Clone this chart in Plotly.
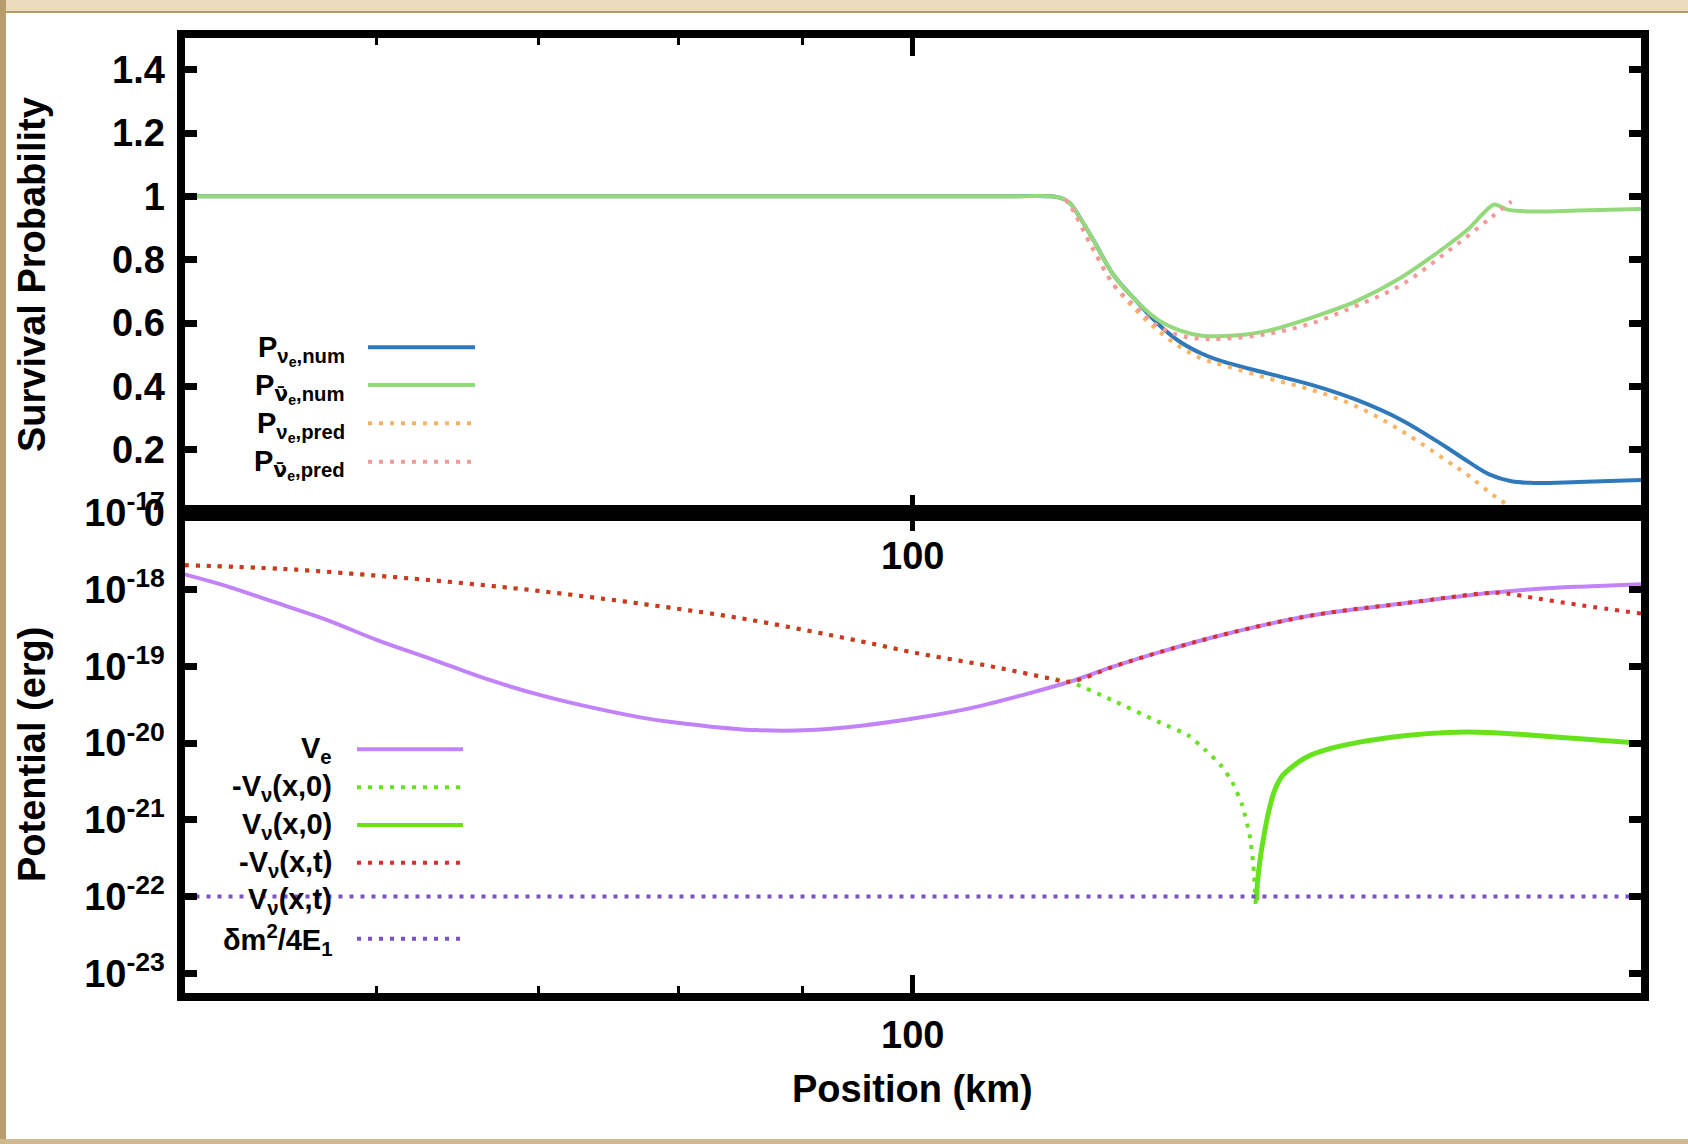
import plotly.graph_objects as go

W, H = 1688, 1144


def fx(p):
    return p / W


def fy(p):
    return 1 - p / H


# ---------------- top panel: survival probabilities ----------------
x_nu_num = [50, 80, 109, 114, 115.1, 116.1, 117.3, 118.6, 121.1, 123.7, 126.3, 129.0, 131.7,
            134.5, 140.3, 146.3, 152.6, 159.2, 166.0, 169.6, 173.2, 176.8, 180.6, 188.4, 200]
p_nu_num = [1, 1, 1, 1.0, 0.995, 0.98, 0.93, 0.87, 0.75, 0.67, 0.597, 0.54, 0.503,
            0.477, 0.44, 0.404, 0.357, 0.294, 0.21, 0.163, 0.121, 0.10, 0.095, 0.098, 0.104]

x_nubar_num = [50, 80, 109, 114, 115.1, 116.1, 117.3, 118.6, 121.1, 123.7, 126.3, 129.0, 131.7,
               134.5, 137.3, 140.3, 146.3, 152.6, 159.2, 166.0, 169.6, 173.9, 176.1, 180.6,
               188.4, 200]
p_nubar_num = [1, 1, 1, 1, 0.995, 0.98, 0.93, 0.87, 0.75, 0.67, 0.61, 0.576, 0.56,
               0.559, 0.564, 0.576, 0.618, 0.67, 0.744, 0.84, 0.895, 0.974, 0.958, 0.952,
               0.955, 0.96]

x_nu_pred = [115.6, 116.3, 118.6, 121.1, 123.7, 126.3, 129.0, 131.7, 134.5, 140.3,
             146.3, 152.6, 159.2, 166.0, 169.6, 173.2, 175.7, 177.5]
p_nu_pred = [0.99, 0.965, 0.84, 0.72, 0.64, 0.576, 0.524, 0.487, 0.466, 0.425,
             0.388, 0.336, 0.26, 0.168, 0.12, 0.064, 0.03, -0.01]

x_nubar_pred = [115.6, 116.3, 118.6, 121.1, 123.7, 126.3, 129.0, 131.7, 134.5, 140.3,
                146.3, 152.6, 159.2, 166.0, 173.2, 176.8]
p_nubar_pred = [0.99, 0.965, 0.84, 0.72, 0.65, 0.59, 0.56, 0.55, 0.55, 0.566,
                0.60, 0.655, 0.72, 0.82, 0.93, 0.984]

# ---------------- bottom panel: potentials (log10 of erg) ----------------
x_ve = [50, 52, 54.2, 57.1, 60.1, 63.2, 66.6, 70.1, 73.8, 77.7, 81.8, 86.1, 90.7, 95.4, 100.5,
        105.8, 111.4, 116.1, 121.1, 126.3, 134.6, 146.5, 159.4, 173.4, 180.9, 188.7, 200]
log_ve = [-17.8, -17.95, -18.14, -18.38, -18.66, -18.9, -19.16, -19.37, -19.54, -19.68, -19.77,
          -19.83, -19.83, -19.77, -19.67, -19.54, -19.36, -19.2, -19.0, -18.82, -18.58, -18.33,
          -18.18, -18.04, -17.99, -17.96, -17.93]

x_mvnu_t = [50, 55, 61.3, 68.4, 76.3, 85.2, 95.1, 100.5, 106.1, 109, 113.7, 116.1, 121.1,
            126.3, 134.6, 146.5, 159.4, 173.4, 176, 180.9, 188.7, 200]
log_mvnu_t = [-17.68, -17.73, -17.84, -17.98, -18.16, -18.38, -18.67, -18.83, -18.96, -19.03,
              -19.15, -19.2, -19.0, -18.82, -18.58, -18.33, -18.18, -18.04, -18.05, -18.11,
              -18.2, -18.31]

x_mvnu_0 = [50, 55, 61.3, 68.4, 76.3, 85.2, 95.1, 100.5, 106.1, 109, 113.7, 116.1, 121.1,
            126.3, 130, 132, 134, 135.5, 136.8, 137.8, 138.3, 138.6]
log_mvnu_0 = [-17.68, -17.73, -17.84, -17.98, -18.16, -18.38, -18.67, -18.83, -18.96, -19.03,
              -19.15, -19.2, -19.45, -19.72, -19.9, -20.08, -20.28, -20.5, -20.8, -21.2,
              -21.6, -22.1]

x_vnu_0 = [138.7, 138.85, 139.2, 139.7, 140.3, 141.1, 142.2, 143.6, 145.5, 148, 152.8, 160,
           166.3, 173, 181, 190, 200]
log_vnu_0 = [-22.05, -21.8, -21.5, -21.2, -20.9, -20.62, -20.42, -20.3, -20.18, -20.09, -19.99,
             -19.9, -19.86, -19.86, -19.9, -19.95, -20.0]

x_dm2 = [50, 200]
log_dm2 = [-22, -22]

NUBAR = '<span style="font-family:DejaVu Sans">\u03bd\u0304</span>'
top_labels = ["P<sub>\u03bd<sub>e</sub>,num</sub>",
              "P<sub>" + NUBAR + "<sub>e</sub>,num</sub>",
              "P<sub>\u03bd<sub>e</sub>,pred</sub>",
              "P<sub>" + NUBAR + "<sub>e</sub>,pred</sub>"]
bottom_labels = ["V<sub>e</sub>", "-V<sub>\u03bd</sub>(x,0)", "V<sub>\u03bd</sub>(x,0)",
                 "-V<sub>\u03bd</sub>(x,t)", "V<sub>\u03bd</sub>(x,t)",
                 "\u03b4m<sup>2</sup>/4E<sub>1</sub>"]

prob_ticks = [0, 0.2, 0.4, 0.6, 0.8, 1.0, 1.2, 1.4]
prob_ticktext = ["0", "0.2", "0.4", "0.6", "0.8", "1", "1.2", "1.4"]
pot_exponents = [-17, -18, -19, -20, -21, -22, -23]
x_ticks = [100]
x_minor = [60, 70, 80, 90, 200]

# colours / styles
C_BLUE = "#2f79bb"
C_LGREEN = "#94d97c"
C_ORANGE = "#f7b465"
C_PINK = "#f39a9a"
C_LAV = "#c183f7"
C_GREEN = "#66e31c"
C_RED = "#d8302a"
C_PURPLE = "#7a52c4"
DOT = "4px,7px"

FONT = "Liberation Sans"

fig = go.Figure()


def tr(x, y, ax, color, width, dash=None, smooth=1.0):
    fig.add_trace(go.Scatter(
        x=x, y=y, xaxis=ax[0], yaxis=ax[1], mode="lines",
        line=dict(color=color, width=width, dash=dash, shape="spline", smoothing=smooth),
        showlegend=False, hoverinfo="skip"))


def pw(v):
    return [10 ** e for e in v]


# top traces
tr(x_nu_num, p_nu_num, ("x", "y"), C_BLUE, 4)
tr(x_nubar_num, p_nubar_num, ("x", "y"), C_LGREEN, 4, None, 0.7)
tr(x_nu_pred, p_nu_pred, ("x", "y"), C_ORANGE, 4, DOT)
tr(x_nubar_pred, p_nubar_pred, ("x", "y"), C_PINK, 4, DOT)

# bottom traces
tr(x_ve, pw(log_ve), ("x2", "y2"), C_LAV, 4)
tr(x_mvnu_0, pw(log_mvnu_0), ("x2", "y2"), C_GREEN, 4, DOT, 0.6)
tr(x_vnu_0, pw(log_vnu_0), ("x2", "y2"), C_GREEN, 5, None, 0.8)
tr(x_mvnu_t, pw(log_mvnu_t), ("x2", "y2"), C_RED, 4, DOT)
tr(x_dm2, pw(log_dm2), ("x2", "y2"), C_PURPLE, 4, DOT)

X0, X1 = fx(184.5), fx(1641)
Y_SEP = fy(513)
Y_TOP = fy(38)
Y_BOT = fy(992.5)

tickfont = dict(family=FONT, size=38, color="black", weight="bold")

xcommon = dict(type="log", range=[1.69897, 2.30103], tickvals=x_ticks,
               ticktext=[str(v) for v in x_ticks], ticks="inside", ticklen=18, tickwidth=5,
               tickcolor="black", showline=True, linewidth=8, linecolor="black",
               mirror="ticks", showgrid=False, zeroline=False, tickfont=tickfont,
               minor=dict(tickvals=x_minor, ticks="inside", ticklen=7, tickwidth=3,
                          tickcolor="black", showgrid=False),
               automargin=False, ticklabelstandoff=2)

ycommon = dict(ticks="inside", ticklen=12, tickwidth=7, tickcolor="black", showline=True,
               linewidth=8, linecolor="black", mirror="ticks", showgrid=False,
               zeroline=False, tickfont=tickfont, automargin=False, ticklabelstandoff=4)

fig.update_layout(
    width=W, height=H, margin=dict(l=0, r=0, t=0, b=0),
    paper_bgcolor="white", plot_bgcolor="white",
    xaxis=dict(domain=[X0, X1], anchor="y", **xcommon),
    xaxis2=dict(domain=[X0, X1], anchor="y2", **xcommon),
    yaxis=dict(domain=[Y_SEP, Y_TOP], anchor="x", range=[0, 1.5], tickvals=prob_ticks,
               ticktext=prob_ticktext, **ycommon),
    yaxis2=dict(domain=[Y_BOT, Y_SEP], anchor="x2", type="log", range=[-23.25, -17],
                tickvals=[10 ** e for e in pot_exponents],
                ticktext=["10<sup>%d</sup>" % e for e in pot_exponents], **ycommon),
)

ann = []
shapes = []
tfont = dict(family=FONT, size=38, color="black", weight="bold")
ann.append(dict(x=fx(32), y=fy(275), xref="paper", yref="paper", text="Survival Probability",
                textangle=-90, showarrow=False, font=tfont, xanchor="center", yanchor="middle"))
ann.append(dict(x=fx(32), y=fy(755), xref="paper", yref="paper", text="Potential (erg)",
                textangle=-90, showarrow=False, font=tfont, xanchor="center", yanchor="middle"))
ann.append(dict(x=fx(912), y=fy(1089), xref="paper", yref="paper", text="Position (km)",
                showarrow=False, font=tfont, xanchor="center", yanchor="middle"))

lfont = dict(family=FONT, size=29, color="black", weight="bold")

# top legend
top_rows = [347.3, 385, 423.3, 461.7]
top_styles = [(C_BLUE, None), (C_LGREEN, None), (C_ORANGE, DOT), (C_PINK, DOT)]
for lab, yy, (col, dash) in zip(top_labels, top_rows, top_styles):
    ann.append(dict(x=fx(347), y=fy(yy + 3), xref="paper", yref="paper", text=lab,
                    showarrow=False, font=lfont, xanchor="right", yanchor="middle"))
    shapes.append(dict(type="line", xref="paper", yref="paper", x0=fx(368), x1=fx(475),
                       y0=fy(yy), y1=fy(yy), line=dict(color=col, width=4, dash=dash)))

# bottom legend
bot_rows = [749.3, 787.3, 825, 862.7, 900, 938.7]
bot_styles = [(C_LAV, None), (C_GREEN, DOT), (C_GREEN, None), (C_RED, DOT), (None, None),
              (C_PURPLE, DOT)]
for lab, yy, (col, dash) in zip(bottom_labels, bot_rows, bot_styles):
    ann.append(dict(x=fx(334), y=fy(yy + 1), xref="paper", yref="paper", text=lab,
                    showarrow=False, font=lfont, xanchor="right", yanchor="middle"))
    if col is not None:
        shapes.append(dict(type="line", xref="paper", yref="paper", x0=fx(357), x1=fx(463),
                           y0=fy(yy), y1=fy(yy), line=dict(color=col, width=4, dash=dash)))

# sepia photo frame edges
shapes.append(dict(type="rect", xref="paper", yref="paper", x0=0, x1=1, y0=fy(12), y1=1,
                   fillcolor="#eadcbd", line=dict(width=0), layer="below"))
shapes.append(dict(type="line", xref="paper", yref="paper", x0=0, x1=1, y0=fy(12), y1=fy(12),
                   line=dict(color="#b39a6c", width=2)))
shapes.append(dict(type="rect", xref="paper", yref="paper", x0=0, x1=fx(6), y0=0, y1=1,
                   fillcolor="#b89c6c", line=dict(width=0)))
shapes.append(dict(type="rect", xref="paper", yref="paper", x0=0, x1=1, y0=0, y1=fy(1139),
                   fillcolor="#cfb98f", line=dict(width=0)))

fig.update_layout(annotations=ann, shapes=shapes)

fig.write_html("out.html")
